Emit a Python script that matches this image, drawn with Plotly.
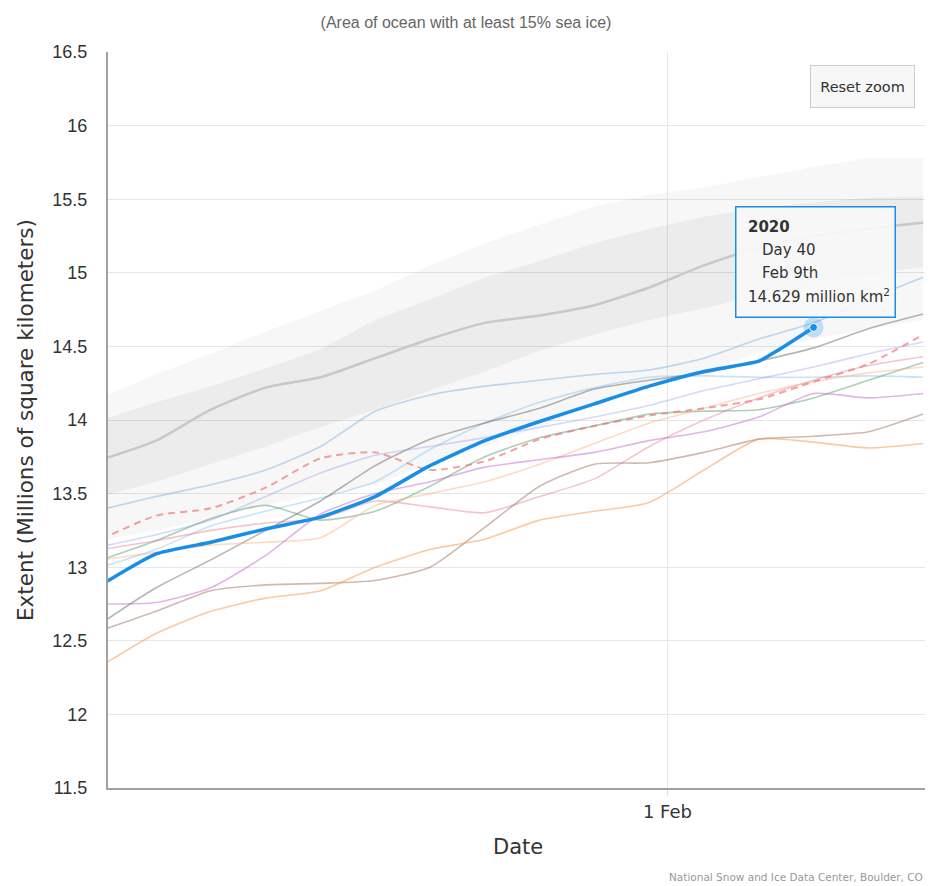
import plotly.graph_objects as go

# ---------------- data (day of year, extent in million km^2) ----------------
days = [1, 4, 7, 10, 13, 16, 19, 22, 25, 28, 31, 34, 37, 40, 43, 46]

idr_upper = [14.15, 14.31, 14.45, 14.60, 14.74, 14.88, 15.05, 15.20, 15.33, 15.45, 15.53, 15.58, 15.65, 15.72, 15.78, 15.78]
idr_lower = [13.18, 13.25, 13.33, 13.42, 13.50, 13.56, 13.70, 13.82, 13.95, 14.10, 14.22, 14.32, 14.46, 14.55, 14.62, 14.68]
iqr_upper = [14.00, 14.12, 14.23, 14.35, 14.48, 14.68, 14.82, 14.97, 15.08, 15.20, 15.30, 15.38, 15.44, 15.48, 15.51, 15.52]
iqr_lower = [13.48, 13.58, 13.70, 13.82, 13.95, 14.07, 14.20, 14.33, 14.47, 14.58, 14.68, 14.76, 14.85, 14.93, 14.99, 15.04]
median    = [13.73, 13.86, 14.07, 14.22, 14.29, 14.42, 14.55, 14.66, 14.71, 14.78, 14.90, 15.05, 15.17, 15.25, 15.30, 15.34]

years_data = {
    "light blue": [13.39, 13.48, 13.56, 13.66, 13.82, 14.06, 14.17, 14.23, 14.27, 14.31, 14.34, 14.42, 14.55, 14.66, 14.82, 14.97],
    "light blue 2": [13.00, 13.12, 13.28, 13.38, 13.47, 13.58, 13.80, 13.98, 14.12, 14.22, 14.29, 14.30, 14.29, 14.29, 14.30, 14.29],
    "gray": [12.62, 12.86, 13.05, 13.25, 13.45, 13.69, 13.87, 13.98, 14.08, 14.21, 14.27, 14.32, 14.40, 14.49, 14.62, 14.72],
    "green": [13.05, 13.18, 13.33, 13.42, 13.32, 13.38, 13.55, 13.75, 13.88, 13.96, 14.04, 14.06, 14.07, 14.15, 14.27, 14.39],
    "lavender": [13.14, 13.22, 13.32, 13.48, 13.64, 13.76, 13.82, 13.88, 13.95, 14.02, 14.10, 14.20, 14.28, 14.36, 14.45, 14.53],
    "mauve": [13.12, 13.18, 13.25, 13.30, 13.33, 13.45, 13.41, 13.37, 13.48, 13.60, 13.82, 14.00, 14.15, 14.27, 14.37, 14.43],
    "peach": [13.05, 13.10, 13.15, 13.17, 13.20, 13.42, 13.50, 13.58, 13.70, 13.84, 13.98, 14.08, 14.18, 14.26, 14.32, 14.36],
    "purple": [12.75, 12.76, 12.86, 13.08, 13.36, 13.50, 13.58, 13.68, 13.73, 13.78, 13.86, 13.92, 14.02, 14.18, 14.15, 14.18],
    "brown": [12.57, 12.70, 12.84, 12.88, 12.89, 12.91, 13.00, 13.27, 13.55, 13.70, 13.71, 13.78, 13.87, 13.89, 13.92, 14.04],
    "orange": [12.33, 12.55, 12.70, 12.79, 12.84, 13.00, 13.12, 13.19, 13.32, 13.38, 13.44, 13.66, 13.87, 13.85, 13.81, 13.84],
}
dashed_year = [13.19, 13.35, 13.40, 13.54, 13.74, 13.78, 13.66, 13.72, 13.87, 13.96, 14.03, 14.08, 14.14, 14.26, 14.38, 14.58]

days_2020 = [1, 4, 7, 10, 13, 16, 19, 22, 25, 28, 31, 34, 37, 38, 40]
extent_2020 = [12.88, 13.09, 13.17, 13.26, 13.34, 13.48, 13.69, 13.86, 13.99, 14.11, 14.23, 14.33, 14.40, 14.47, 14.629]

tooltip_lines = ["<b>2020</b>", "Day 40", "Feb 9th", "14.629 million km<sup>2</sup>"]

y_ticks = [11.5, 12, 12.5, 13, 13.5, 14, 14.5, 15, 15.5, 16, 16.5]
y_tick_text = ["11.5", "12", "12.5", "13", "13.5", "14", "14.5", "15", "15.5", "16", "16.5"]
x_tick = [32]
x_tick_text = ["1 Feb"]

line_colors = {
    "light blue": "rgba(120,170,225,0.45)",
    "light blue 2": "rgba(130,195,235,0.45)",
    "gray": "rgba(90,90,90,0.45)",
    "green": "rgba(70,150,100,0.45)",
    "lavender": "rgba(150,160,235,0.40)",
    "mauve": "rgba(225,110,140,0.40)",
    "peach": "rgba(250,175,120,0.45)",
    "purple": "rgba(190,90,205,0.45)",
    "brown": "rgba(150,100,80,0.45)",
    "orange": "rgba(245,150,70,0.50)",
}

BLUE = "rgb(24,142,230)"

# page-pixel helpers (plot area on page: x 108..925, y 52..788)
def px(xp):
    return (xp - 108) / 817.0

def py(yp):
    return (788 - yp) / 736.0

fig = go.Figure()

# interdecile band
fig.add_trace(go.Scatter(x=days, y=idr_lower, mode="lines", line=dict(width=0), hoverinfo="skip", showlegend=False))
fig.add_trace(go.Scatter(x=days, y=idr_upper, mode="lines", line=dict(width=0), fill="tonexty",
                         fillcolor="rgba(0,0,0,0.03)", hoverinfo="skip", showlegend=False))
# interquartile band
fig.add_trace(go.Scatter(x=days, y=iqr_lower, mode="lines", line=dict(width=0), hoverinfo="skip", showlegend=False))
fig.add_trace(go.Scatter(x=days, y=iqr_upper, mode="lines", line=dict(width=0), fill="tonexty",
                         fillcolor="rgba(0,0,0,0.045)", hoverinfo="skip", showlegend=False))

for name, vals in years_data.items():
    fig.add_trace(go.Scatter(x=days, y=vals, mode="lines", name=name,
                             line=dict(color=line_colors[name], width=1.6, shape="spline", smoothing=0.6),
                             showlegend=False))

fig.add_trace(go.Scatter(x=days, y=dashed_year, mode="lines", line=dict(color="rgba(240,110,110,0.65)", width=2, dash="7px,5px",
                         shape="spline", smoothing=0.6), showlegend=False))

fig.add_trace(go.Scatter(x=days, y=median, mode="lines", line=dict(color="rgb(200,200,200)", width=2.5,
                         shape="spline", smoothing=0.6), showlegend=False))

fig.add_trace(go.Scatter(x=days_2020, y=extent_2020, mode="lines", name="2020",
                         line=dict(color=BLUE, width=3.5, shape="spline", smoothing=0.5), showlegend=False))

# hovered point
fig.add_trace(go.Scatter(x=[days_2020[-1]], y=[extent_2020[-1]], mode="markers",
                         marker=dict(size=20, color="rgba(24,142,230,0.25)"), showlegend=False))
fig.add_trace(go.Scatter(x=[days_2020[-1]], y=[extent_2020[-1]], mode="markers",
                         marker=dict(size=8, color=BLUE, line=dict(color="white", width=1)), showlegend=False))

# tooltip box (anchored to the hovered point)
hx, hy = days_2020[-1], extent_2020[-1]
fig.add_annotation(x=hx, y=hy, xref="x", yref="y", showarrow=False,
                   xanchor="center", yanchor="bottom", yshift=9, xshift=2,
                   width=156, height=107, text=" ",
                   font=dict(family="DejaVu Sans", size=15, color="#333333"),
                   bgcolor="rgba(247,247,247,0.92)", bordercolor=BLUE, borderwidth=1.5, borderpad=1)
line_shifts = [(-68, 100), (-54, 77), (-54, 54), (-68, 31)]
for txt, (dx, dy) in zip(tooltip_lines, line_shifts):
    fig.add_annotation(x=hx, y=hy, xref="x", yref="y", showarrow=False, xanchor="left", yanchor="middle",
                       xshift=dx, yshift=dy, text=txt, font=dict(family="DejaVu Sans", size=15, color="#333333"))

fig.add_annotation(xref="paper", yref="paper", x=px(862), y=py(86), xanchor="center", yanchor="middle",
                   showarrow=False, width=97, height=35,
                   text="Reset zoom", font=dict(family="DejaVu Sans", size=14.5, color="#333333"),
                   bgcolor="#f7f7f7", bordercolor="#cccccc", borderwidth=1, borderpad=3)

fig.add_annotation(xref="paper", yref="paper", x=px(25), y=py(420), xanchor="center", yanchor="middle",
                   showarrow=False, textangle=-90,
                   text="Extent (Millions of square kilometers)",
                   font=dict(family="DejaVu Sans", size=21.5, color="#333333"))
fig.add_annotation(xref="paper", yref="paper", x=px(518), y=py(847), xanchor="center", yanchor="middle",
                   showarrow=False, text="Date", font=dict(family="DejaVu Sans", size=21, color="#333333"))
fig.add_annotation(xref="paper", yref="paper", x=px(925), xanchor="right", y=py(877), yanchor="middle",
                   showarrow=False, text="National Snow and Ice Data Center, Boulder, CO",
                   font=dict(family="DejaVu Sans", size=10.5, color="#999999"))

fig.update_layout(
    width=927, height=878,
    margin=dict(l=100, r=10, t=44, b=98),
    paper_bgcolor="white", plot_bgcolor="white",
    title=dict(text="(Area of ocean with at least 15% sea ice)", x=(466 - 8) / 927, xanchor="center",
               xref="container", y=1 - 14 / 878, yanchor="middle",
               font=dict(family="Liberation Sans Narrow, Liberation Sans", size=16, color="#666666")),
    xaxis=dict(range=[1.37, 46.1], tickvals=x_tick, ticktext=x_tick_text, showgrid=True, gridcolor="#e6e6e6",
               zeroline=False, showline=True, linecolor="#a0a0a0", linewidth=2, ticks="outside", ticklen=6,
               tickcolor="#e0e0e0", tickfont=dict(family="DejaVu Sans", size=18, color="#333333")),
    yaxis=dict(range=[11.5, 16.5], tickvals=y_ticks, ticktext=y_tick_text, showgrid=True, gridcolor="#e6e6e6",
               zeroline=False, showline=True, linecolor="#a0a0a0", linewidth=2, ticklabelstandoff=15,
               tickfont=dict(family="Liberation Sans Narrow, Liberation Sans", size=18, color="#333333")),
)

fig.write_html("out.html")
